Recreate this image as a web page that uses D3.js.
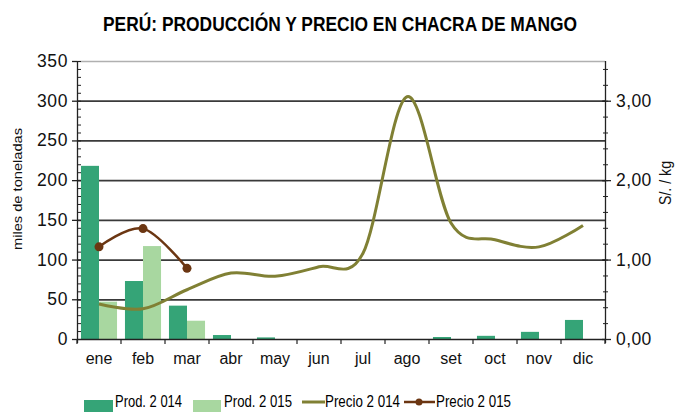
<!DOCTYPE html>
<html><head><meta charset="utf-8">
<script src="https://cdn.jsdelivr.net/npm/d3@7"></script>
<style>body{margin:0;background:#fff}svg{display:block;font-family:Arial,"Liberation Sans",sans-serif}</style>
</head><body><svg id="c" width="683" height="412"></svg>
<script>
const months = ["ene","feb","mar","abr","may","jun","jul","ago","set","oct","nov","dic"];
const prod2014 = [218, 73, 42, 5, 2, 0, 0, 0, 2.5, 4, 9, 24];
const prod2015 = [47, 117, 23];
const precio2014 = [0.44, 0.38, 0.62, 0.83, 0.79, 0.91, 1.08, 3.05, 1.46, 1.25, 1.16, 1.43];
const precio2015 = [1.16, 1.39, 0.89];
const leftTicks = [0,50,100,150,200,250,300,350];
const rightTicks = [0,1,2,3];
const seriesNames = ["Prod. 2 014","Prod. 2 015","Precio 2 014","Precio 2 015"];
const colors = {p14:"#35a477", p15:"#a8d7a0", l14:"#808034", l15:"#6b3612"};

const svg = d3.select("#c");
const L=77, R=605, T=61, B=339;
const x0 = d3.scaleBand().domain(months).range([L,R]).paddingInner(0.18).paddingOuter(0.09);
const x1 = d3.scaleBand().domain(["a","b"]).range([0,x0.bandwidth()]);
const yL = d3.scaleLinear().domain([0,350]).range([B,T]);
const yR = d3.scaleLinear().domain([0,3.5]).range([B,T]);
const cx = m => x0(m)+x0.bandwidth()/2;

// title
svg.append("text").attr("x",340).attr("y",31).attr("text-anchor","middle")
  .attr("font-weight","bold").attr("font-size",20).attr("textLength",474).attr("lengthAdjust","spacingAndGlyphs")
  .text("PERÚ: PRODUCCIÓN Y PRECIO EN CHACRA DE MANGO");

// gridlines
svg.append("g").selectAll("line").data(leftTicks.filter(d=>d>0)).join("line")
  .attr("x1",L).attr("x2",R).attr("y1",d=>yL(d)+0.5).attr("y2",d=>yL(d)+0.5)
  .attr("stroke",d=>d===350?"#b0b0b0":"#3a3a3a").attr("stroke-width",d=>d===350?1.5:1.8);

// bars
svg.append("g").selectAll("rect").data(prod2014.map((v,i)=>({m:months[i],v}))).join("rect")
  .attr("x",d=>x0(d.m)+x1("a")).attr("width",x1.bandwidth())
  .attr("y",d=>yL(d.v)).attr("height",d=>B-yL(d.v)).attr("fill",colors.p14);
svg.append("g").selectAll("rect").data(prod2015.map((v,i)=>({m:months[i],v}))).join("rect")
  .attr("x",d=>x0(d.m)+x1("b")).attr("width",x1.bandwidth())
  .attr("y",d=>yL(d.v)).attr("height",d=>B-yL(d.v)).attr("fill",colors.p15);

// lines
const line = d3.line().x(d=>cx(d.m)).y(d=>yR(d.v)).curve(d3.curveCatmullRom.alpha(0));
svg.append("path").datum(precio2014.map((v,i)=>({m:months[i],v})))
  .attr("d",line).attr("fill","none").attr("stroke",colors.l14).attr("stroke-width",3).attr("stroke-linejoin","round");
const d15 = precio2015.map((v,i)=>({m:months[i],v}));
svg.append("path").datum(d15).attr("d",line).attr("fill","none").attr("stroke",colors.l15).attr("stroke-width",2.5);
svg.append("g").selectAll("circle").data(d15).join("circle")
  .attr("cx",d=>cx(d.m)).attr("cy",d=>yR(d.v)).attr("r",4.5).attr("fill",colors.l15);

// x axis
const xa = svg.append("g");
xa.append("line").attr("x1",L).attr("x2",R).attr("y1",B+0.5).attr("y2",B+0.5).attr("stroke","#222").attr("stroke-width",1.5);
const bounds = months.map(m=>x0(m)-x0.step()*x0.paddingInner()/2).concat([R]);
xa.selectAll("line.t").data(bounds).join("line").attr("class","t")
  .attr("x1",d=>d).attr("x2",d=>d).attr("y1",B).attr("y2",B+5).attr("stroke","#222").attr("stroke-width",1.2);
xa.selectAll("text").data(months).join("text").attr("x",d=>cx(d)).attr("y",364)
  .attr("text-anchor","middle").attr("font-size",16).attr("fill","#111").text(d=>d);

// left axis
const la = svg.append("g");
la.append("line").attr("x1",L+0.5).attr("x2",L+0.5).attr("y1",T).attr("y2",B+4).attr("stroke","#222").attr("stroke-width",1.3);
la.selectAll("line.mn").data(d3.range(0,351,10)).join("line").attr("class","mn")
  .attr("x1",L).attr("x2",L+4).attr("y1",d=>yL(d)+0.5).attr("y2",d=>yL(d)+0.5).attr("stroke","#222");
la.selectAll("line.mj").data(leftTicks).join("line").attr("class","mj")
  .attr("x1",L-5).attr("x2",L).attr("y1",d=>yL(d)+0.5).attr("y2",d=>yL(d)+0.5).attr("stroke","#222").attr("stroke-width",1.3);
la.selectAll("text").data(leftTicks).join("text").attr("x",68).attr("y",d=>yL(d)+6)
  .attr("text-anchor","end").attr("font-size",17.5).attr("letter-spacing",0.6).attr("fill","#111").text(d=>d);
svg.append("text").attr("transform","translate(22,189) rotate(-90)").attr("text-anchor","middle")
  .attr("font-size",12).attr("textLength",122).attr("lengthAdjust","spacingAndGlyphs").attr("fill","#111").text("miles de toneladas");

// right axis
const ra = svg.append("g");
ra.append("line").attr("x1",R+0.5).attr("x2",R+0.5).attr("y1",T).attr("y2",B+4).attr("stroke","#222").attr("stroke-width",1.3);
ra.selectAll("line.mn").data(d3.range(0,3.51,0.2)).join("line").attr("class","mn")
  .attr("x1",R-2).attr("x2",R+3).attr("y1",d=>yR(d)+0.5).attr("y2",d=>yR(d)+0.5).attr("stroke","#222");
ra.selectAll("line.mj").data(rightTicks).join("line").attr("class","mj")
  .attr("x1",R-3).attr("x2",R+6).attr("y1",d=>yR(d)+0.5).attr("y2",d=>yR(d)+0.5).attr("stroke","#222").attr("stroke-width",1.3);
ra.selectAll("text").data(rightTicks).join("text").attr("x",616).attr("y",d=>yR(d)+6)
  .attr("font-size",17.5).attr("letter-spacing",0.4).attr("fill","#111").text(d=>d3.format(".2f")(d).replace(".",","));
svg.append("text").attr("transform","translate(671,183) rotate(-90)").attr("text-anchor","middle")
  .attr("font-size",17).attr("textLength",44).attr("lengthAdjust","spacingAndGlyphs").attr("fill","#111").text("S/. / kg");

// legend
const lg = svg.append("g");
const ly = 407;
lg.append("rect").attr("x",84).attr("y",ly-7).attr("width",29).attr("height",12).attr("fill",colors.p14);
lg.append("text").attr("x",115).attr("y",ly).attr("font-size",16).attr("textLength",67).attr("lengthAdjust","spacingAndGlyphs").text(seriesNames[0]);
lg.append("rect").attr("x",193).attr("y",ly-7).attr("width",28).attr("height",12).attr("fill",colors.p15);
lg.append("text").attr("x",224).attr("y",ly).attr("font-size",16).attr("textLength",68).attr("lengthAdjust","spacingAndGlyphs").text(seriesNames[1]);
lg.append("line").attr("x1",302).attr("x2",325).attr("y1",ly-5).attr("y2",ly-5).attr("stroke",colors.l14).attr("stroke-width",3);
lg.append("text").attr("x",325).attr("y",ly).attr("font-size",16).attr("textLength",75).attr("lengthAdjust","spacingAndGlyphs").text(seriesNames[2]);
lg.append("line").attr("x1",404).attr("x2",435).attr("y1",ly-5).attr("y2",ly-5).attr("stroke",colors.l15).attr("stroke-width",2.5);
lg.append("circle").attr("cx",419).attr("cy",ly-5).attr("r",3.5).attr("fill",colors.l15);
lg.append("text").attr("x",436).attr("y",ly).attr("font-size",16).attr("textLength",75).attr("lengthAdjust","spacingAndGlyphs").text(seriesNames[3]);
</script></body></html>
